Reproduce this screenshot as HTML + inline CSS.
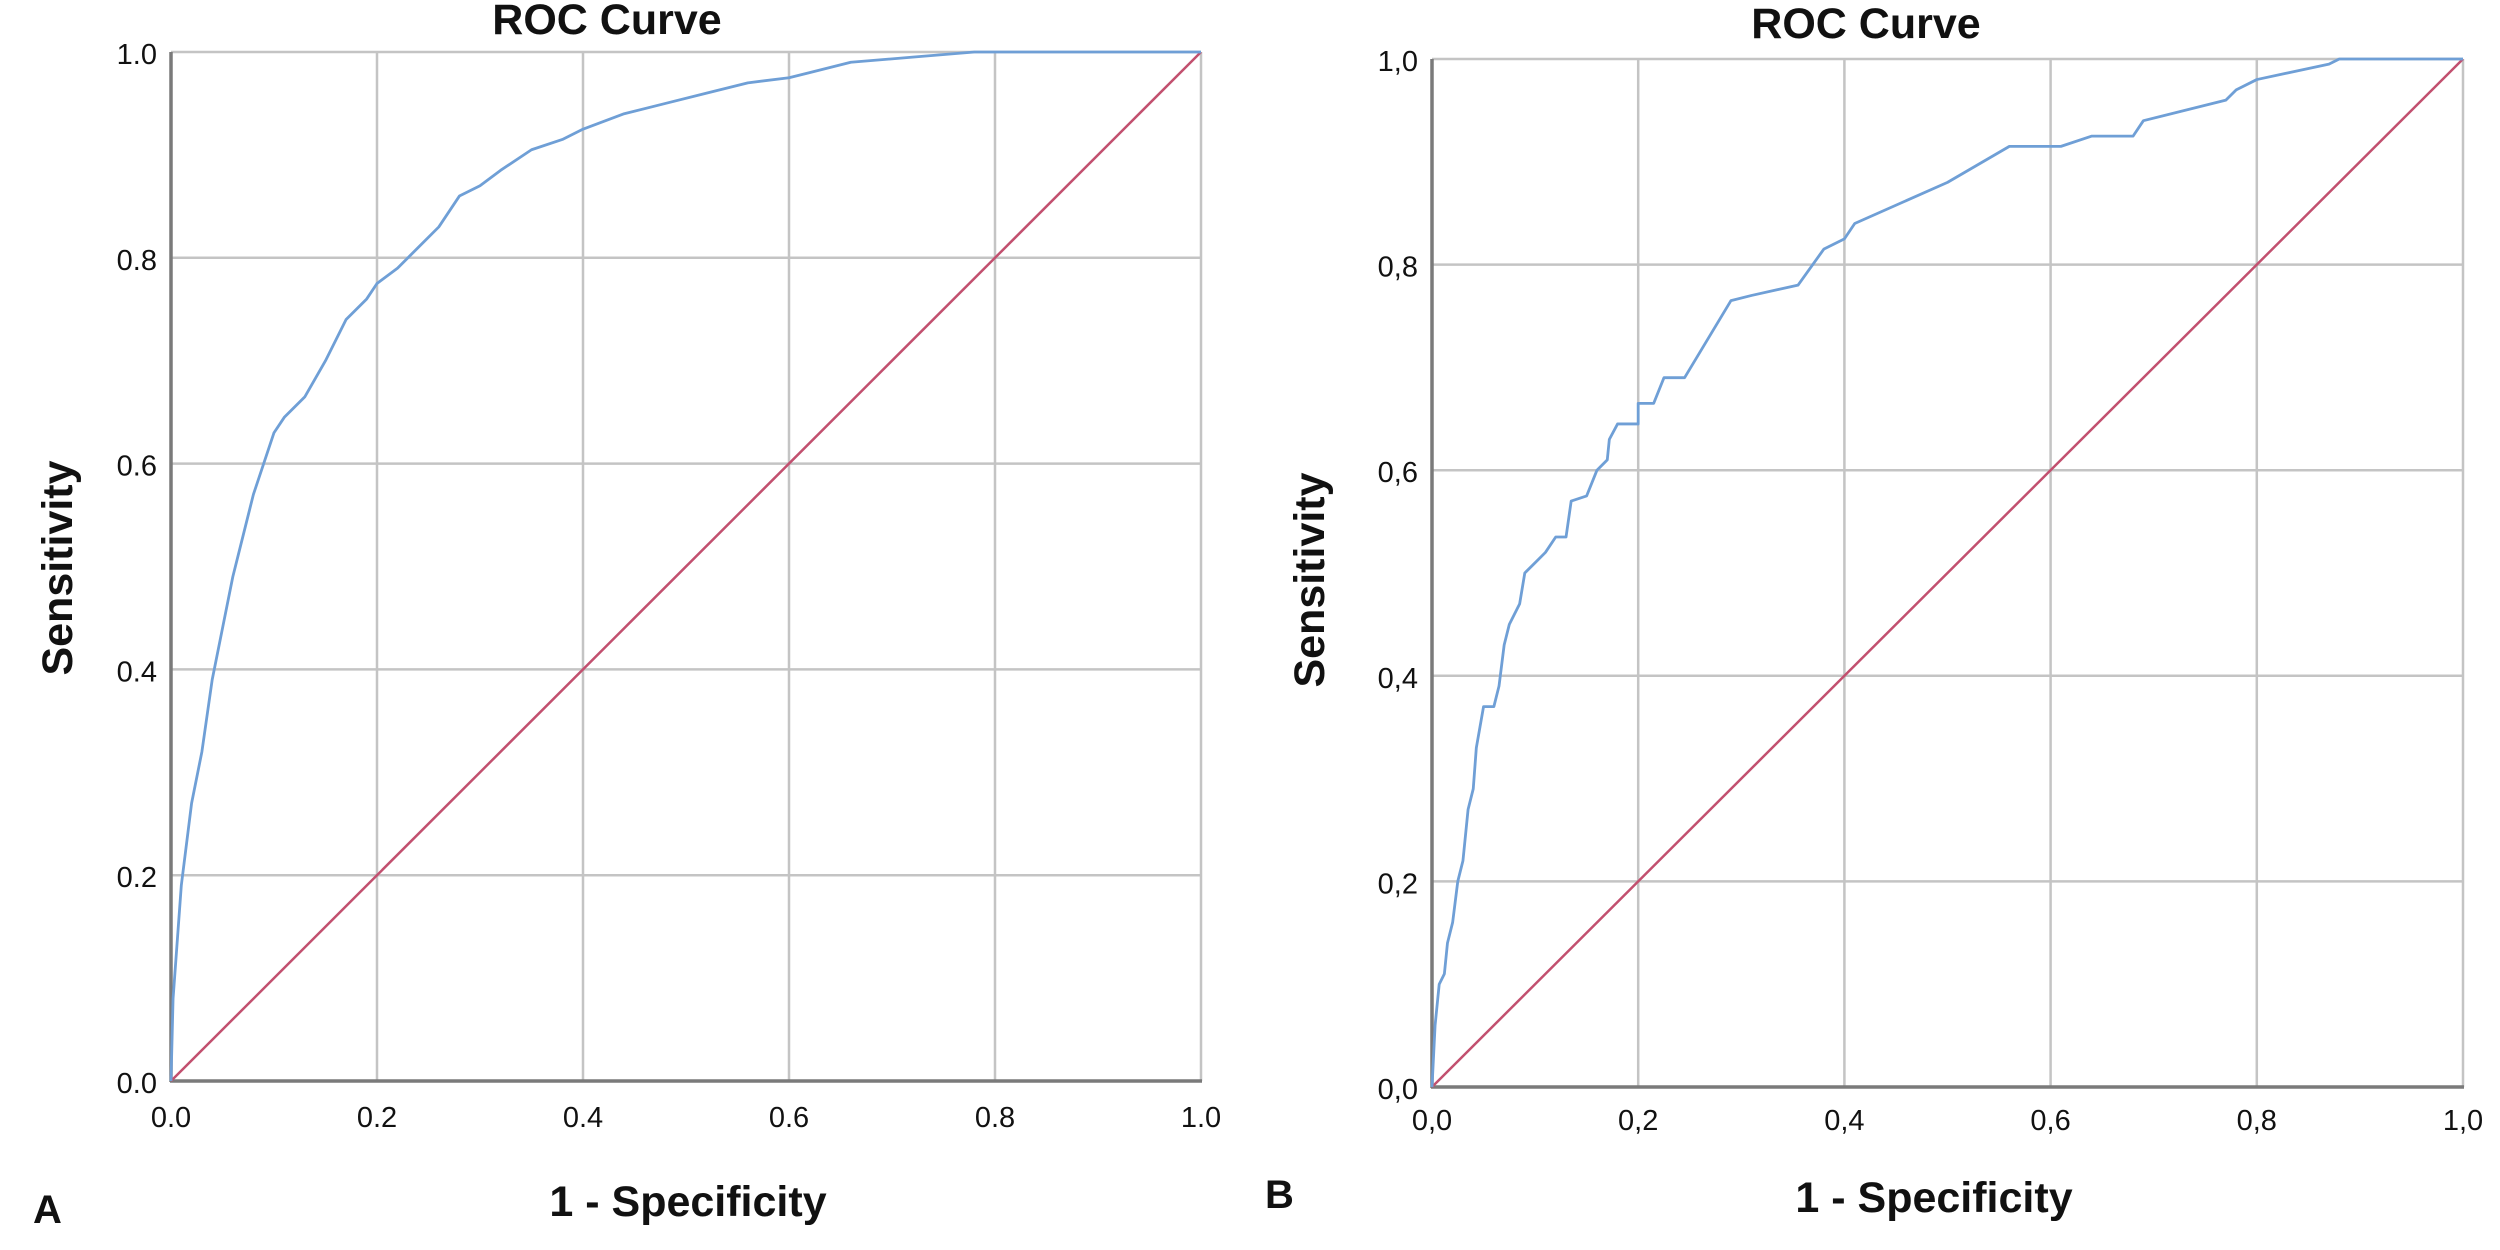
<!DOCTYPE html>
<html><head><meta charset="utf-8"><style>
html,body{margin:0;padding:0;background:#fff;}
svg{display:block;font-family:"Liberation Sans",Arial,sans-serif;}
</style></head><body>
<svg id="chart" width="2500" height="1250" viewBox="0 0 2500 1250" xmlns="http://www.w3.org/2000/svg"></svg>
<script>
const tickValues = [0, 0.2, 0.4, 0.6, 0.8, 1.0];
const tickLabelsA = ["0.0","0.2","0.4","0.6","0.8","1.0"];
const tickLabelsB = ["0,0","0,2","0,4","0,6","0,8","1,0"];
const refX = [0, 1];
const refY = [0, 1];
const fprA = [0,0.002,0.01,0.02,0.03,0.04,0.05,0.06,0.07,0.08,0.09,0.1,0.11,0.13,0.15,0.16,0.17,0.19,0.2,0.22,0.24,0.26,0.28,0.30,0.32,0.35,0.38,0.40,0.44,0.48,0.52,0.56,0.6,0.62,0.66,0.72,0.78,1];
const tprA = [0,0.08,0.19,0.27,0.32,0.39,0.44,0.49,0.53,0.57,0.60,0.63,0.645,0.665,0.70,0.72,0.74,0.76,0.775,0.79,0.81,0.83,0.86,0.87,0.885,0.905,0.915,0.925,0.94,0.95,0.96,0.97,0.975,0.98,0.99,0.995,1.0,1];
const fprB = [0,0.003,0.007,0.012,0.015,0.02,0.025,0.03,0.035,0.04,0.043,0.05,0.06,0.065,0.07,0.075,0.085,0.09,0.1,0.11,0.12,0.13,0.135,0.15,0.16,0.17,0.172,0.18,0.2,0.2,0.215,0.225,0.245,0.29,0.31,0.355,0.38,0.39,0.4,0.41,0.5,0.56,0.61,0.64,0.68,0.69,0.77,0.78,0.8,0.87,0.88,1];
const tprB = [0,0.06,0.10,0.11,0.14,0.16,0.20,0.22,0.27,0.29,0.33,0.37,0.37,0.39,0.43,0.45,0.47,0.50,0.51,0.52,0.535,0.535,0.57,0.575,0.60,0.61,0.63,0.645,0.645,0.665,0.665,0.69,0.69,0.765,0.77,0.78,0.815,0.82,0.825,0.84,0.88,0.915,0.915,0.925,0.925,0.94,0.96,0.97,0.98,0.995,1.0,1];

const NS = "http://www.w3.org/2000/svg";
const svg = document.getElementById('chart');
function mk(tag, attrs, parent){ const e=document.createElementNS(NS,tag); for(const k in attrs) e.setAttribute(k,attrs[k]); (parent||svg).appendChild(e); return e; }

function panel(cfg){
  const g = mk('g',{});
  
  
  const sx = v => cfg.x0 + v*(cfg.x1-cfg.x0);
  const sy = v => cfg.y0 - v*(cfg.y0-cfg.y1);
  tickValues.forEach((t,i)=>{
    if(t>0){
      const gv = mk('line',{x1:sx(t),x2:sx(t),y1:sy(0),y2:sy(1),stroke:'#c4c4c4','stroke-width':2.5},g);
      
      
      const gh = mk('line',{x1:sx(0),x2:sx(1),y1:sy(t),y2:sy(t),stroke:'#c4c4c4','stroke-width':2.5},g);
      
      
    }
    const xl = mk('text',{x:sx(t),y:cfg.xLabY,'text-anchor':'middle','font-size':29,fill:'#111'},g);
    xl.textContent = cfg.labels[i];
    
    
    const yl = mk('text',{x:cfg.yLabX,y:sy(t)+12,'text-anchor':'end','font-size':29,fill:'#111'},g);
    yl.textContent = cfg.labels[i];
    
    
  });
  const ax = mk('line',{x1:sx(0)-1,x2:sx(1)+1,y1:sy(0),y2:sy(0),stroke:'#7a7a7a','stroke-width':3.5},g);
  
  
  const ay = mk('line',{x1:sx(0),x2:sx(0),y1:sy(0)+1,y2:sy(1),stroke:'#7a7a7a','stroke-width':3.5},g);
  
  
  const ref = mk('polyline',{points:refX.map((v,i)=>sx(v)+','+sy(refY[i])).join(' '),fill:'none',stroke:'#c2506f','stroke-width':2.5},g);
  
  
  const roc = mk('polyline',{points:cfg.fpr.map((v,i)=>sx(v)+','+sy(cfg.tpr[i])).join(' '),fill:'none',stroke:'#6f9fd6','stroke-width':2.8,'stroke-linejoin':'round'},g);
  
  
  const ti = mk('text',{x:cfg.titleX,y:cfg.titleY,'text-anchor':'middle','font-size':43,'font-weight':'bold',fill:'#111'},g);
  ti.textContent='ROC Curve';
  
  
  const xt = mk('text',{x:cfg.xtX,y:cfg.xtY,'text-anchor':'middle','font-size':43,'font-weight':'bold',fill:'#111'},g);
  xt.textContent='1 - Specificity';
  
  
  const yt = mk('text',{x:0,y:0,'text-anchor':'middle','font-size':43,'font-weight':'bold',fill:'#111',transform:'translate('+cfg.ytX+','+cfg.ytY+') rotate(-90)'},g);
  yt.textContent='Sensitivity';
  
  
  const pl = mk('text',{x:cfg.plX,y:cfg.plY,'font-size':40,'font-weight':'bold',fill:'#111'},g);
  pl.textContent=cfg.letter;
  
  
}

panel({id:'a',x0:171,x1:1201,y0:1081,y1:52,labels:tickLabelsA,fpr:fprA,tpr:tprA,
  xLabY:1127,yLabX:157,titleX:607,titleY:34,xtX:688,xtY:1216,ytX:72,ytY:568,plX:33,plY:1223,letter:'A'});
panel({id:'b',x0:1432,x1:2463,y0:1087,y1:59,labels:tickLabelsB,fpr:fprB,tpr:tprB,
  xLabY:1130,yLabX:1418,titleX:1866,titleY:38,xtX:1934,xtY:1212,ytX:1324,ytY:580,plX:1265,plY:1208,letter:'B'});
</script>
</body></html>
